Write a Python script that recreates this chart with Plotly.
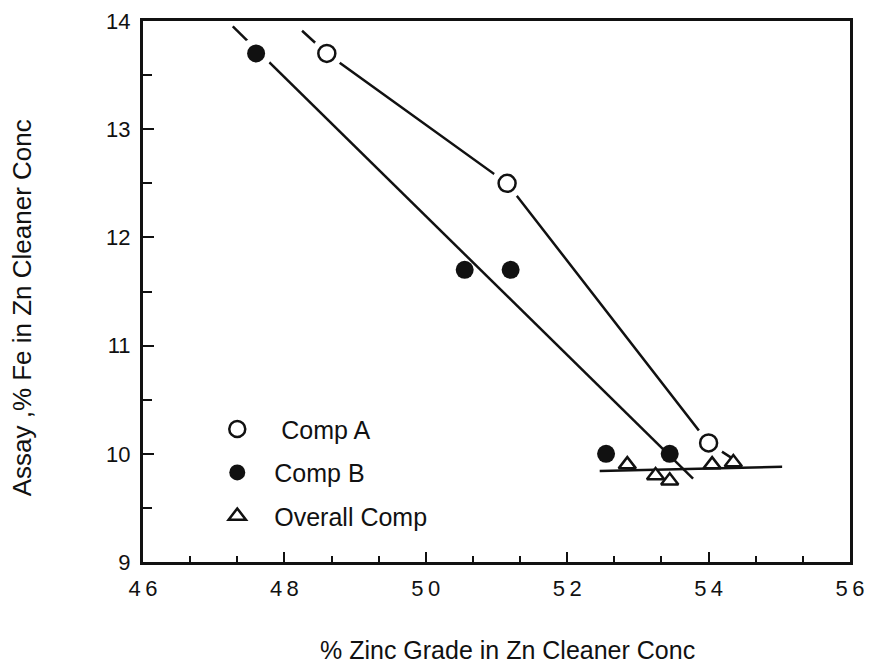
import plotly.graph_objects as go

# ---- data ----
comp_a_x = [48.6, 51.15, 54.0]
comp_a_y = [13.7, 12.5, 10.1]

comp_b_x = [47.6, 50.55, 51.2, 52.55, 53.45]
comp_b_y = [13.7, 11.7, 11.7, 10.0, 10.0]

overall_x = [52.85, 53.25, 53.45, 54.05, 54.35]
overall_y = [9.9, 9.8, 9.75, 9.9, 9.92]

trend_a_x = [48.25, 48.6, 51.15, 54.0, 54.33]
trend_a_y = [13.91, 13.7, 12.5, 10.1, 9.96]

trend_b_x = [47.27, 53.78]
trend_b_y = [13.95, 9.77]

trend_all_x = [52.46, 55.04]
trend_all_y = [9.84, 9.88]

x_ticks = [46, 48, 50, 52, 54, 56]
x_tick_text = ["4\u20096", "4\u20098", "5\u20090", "5\u20092", "5\u20094", "5\u20096"]
y_ticks = [9, 10, 11, 12, 13, 14]

x_title = "% Zinc Grade in Zn Cleaner Conc"
y_title = "Assay ,% Fe in Zn Cleaner Conc"

FONT = "Liberation Sans, Arial, Helvetica, sans-serif"
BLACK = "#111111"

fig = go.Figure()

# trend lines
fig.add_trace(go.Scatter(x=trend_a_x, y=trend_a_y, mode="lines",
                         line=dict(color=BLACK, width=2.5), showlegend=False, hoverinfo="skip"))
fig.add_trace(go.Scatter(x=trend_b_x, y=trend_b_y, mode="lines",
                         line=dict(color=BLACK, width=2.5), showlegend=False, hoverinfo="skip"))

# white halos that break the lines around some markers
halo_x = comp_a_x + comp_b_x[:1]
halo_y = comp_a_y + comp_b_y[:1]
fig.add_trace(go.Scatter(x=halo_x, y=halo_y, mode="markers",
                         marker=dict(symbol="circle", size=32, color="white", line=dict(width=0)),
                         showlegend=False, hoverinfo="skip"))

fig.add_trace(go.Scatter(x=trend_all_x, y=trend_all_y, mode="lines",
                         line=dict(color=BLACK, width=2.5), showlegend=False, hoverinfo="skip"))

# markers
fig.add_trace(go.Scatter(x=comp_a_x, y=comp_a_y, mode="markers", name=" Comp A",
                         legendgroup="a",
                         marker=dict(symbol="circle", size=17, color="white",
                                     line=dict(color=BLACK, width=2.5))))
fig.add_trace(go.Scatter(x=comp_b_x, y=comp_b_y, mode="markers", name="Comp B",
                         legendgroup="b",
                         marker=dict(symbol="circle", size=18, color=BLACK,
                                     line=dict(color=BLACK, width=0))))
fig.add_trace(go.Scatter(x=overall_x, y=overall_y, mode="markers", name="Overall Comp",
                         legendgroup="c",
                         marker=dict(symbol="triangle-up", size=15, color="white",
                                     line=dict(color=BLACK, width=2.5))))

fig.update_layout(
    width=868, height=658,
    margin=dict(l=135, r=26, t=13, b=104),
    paper_bgcolor="white", plot_bgcolor="white",
    font=dict(family=FONT, color=BLACK, size=22),
    showlegend=True,
    legend=dict(x=0.081, y=0.288, xanchor="left", yanchor="top",
                bgcolor="rgba(0,0,0,0)", borderwidth=0,
                font=dict(size=25, family=FONT, color=BLACK),
                traceorder="grouped", tracegroupgap=8, itemwidth=64),
    annotations=[
        dict(text=x_title, xref="paper", yref="paper", x=0.516, y=-0.163,
             xanchor="center", yanchor="middle", showarrow=False,
             font=dict(size=25, family=FONT, color=BLACK)),
        dict(text=y_title, xref="paper", yref="paper", x=-0.171, y=0.469,
             xanchor="center", yanchor="middle", showarrow=False, textangle=-90,
             font=dict(size=26, family=FONT, color=BLACK)),
    ],
)

fig.update_xaxes(
    range=[46, 56], tickvals=x_ticks, ticktext=x_tick_text,
    automargin=False, ticklabeloverflow="allow",
    showgrid=False, zeroline=False,
    showline=True, linecolor=BLACK, linewidth=3, mirror=True,
    ticks="inside", ticklen=10, tickwidth=2, tickcolor=BLACK,
    minor=dict(tick0=46, dtick=2/3, ticks="inside", ticklen=6, tickwidth=2, tickcolor=BLACK),
    tickfont=dict(size=22, family=FONT, color=BLACK),
    ticklabelstandoff=5,
)
fig.update_yaxes(
    range=[9, 14], tickvals=y_ticks,
    automargin=False, ticklabeloverflow="allow",
    showgrid=False, zeroline=False,
    showline=True, linecolor=BLACK, linewidth=3, mirror=True,
    ticks="inside", ticklen=11, tickwidth=2, tickcolor=BLACK,
    minor=dict(dtick=0.5, ticks="inside", ticklen=9, tickwidth=2, tickcolor=BLACK),
    tickfont=dict(size=22, family=FONT, color=BLACK),
    ticklabelstandoff=5,
)

fig.write_html("out.html")
